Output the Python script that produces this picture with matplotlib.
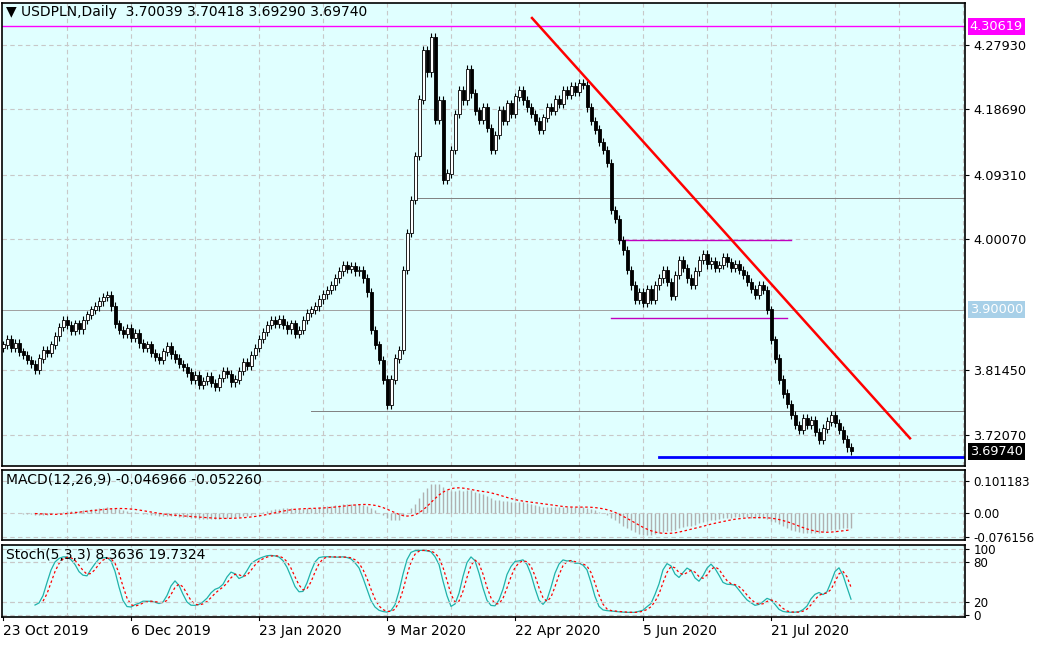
import matplotlib
matplotlib.use("Agg")
import matplotlib.pyplot as plt
import numpy as np
import pandas as pd

closes = [
3.850,3.858,3.845,3.852,3.840,3.835,3.828,3.822,3.814,3.830,
3.842,3.838,3.850,3.862,3.875,3.885,3.878,3.870,3.880,3.872,
3.885,3.893,3.900,3.905,3.912,3.918,3.921,3.905,3.880,3.871,
3.865,3.873,3.860,3.866,3.852,3.845,3.850,3.838,3.832,3.828,
3.840,3.848,3.836,3.830,3.822,3.818,3.810,3.800,3.806,3.792,
3.798,3.805,3.795,3.790,3.802,3.812,3.808,3.796,3.800,3.812,
3.825,3.820,3.835,3.845,3.858,3.868,3.878,3.885,3.880,3.887,
3.878,3.872,3.880,3.865,3.871,3.885,3.895,3.900,3.905,3.915,
3.922,3.928,3.935,3.945,3.955,3.964,3.958,3.962,3.955,3.957,
3.945,3.925,3.871,3.850,3.828,3.800,3.764,3.800,3.830,3.842,
3.957,4.010,4.057,4.120,4.201,4.272,4.240,4.290,4.172,4.200,
4.086,4.095,4.129,4.180,4.215,4.200,4.244,4.210,4.185,4.172,
4.190,4.160,4.129,4.150,4.186,4.170,4.195,4.180,4.205,4.215,
4.200,4.190,4.180,4.170,4.158,4.175,4.190,4.185,4.201,4.195,
4.215,4.208,4.220,4.212,4.225,4.222,4.190,4.170,4.158,4.140,
4.129,4.110,4.043,4.030,4.000,3.985,3.957,3.935,3.914,3.925,
3.910,3.930,3.914,3.935,3.945,3.957,3.940,3.920,3.950,3.971,
3.960,3.945,3.936,3.955,3.971,3.980,3.965,3.970,3.960,3.964,
3.975,3.968,3.960,3.965,3.957,3.950,3.940,3.930,3.921,3.935,
3.928,3.900,3.857,3.830,3.800,3.780,3.765,3.749,3.735,3.728,
3.745,3.735,3.742,3.725,3.714,3.730,3.740,3.749,3.738,3.728,
3.715,3.703,3.6974]
first_open = 3.845
date_labels = ["23 Oct 2019", "6 Dec 2019", "23 Jan 2020", "9 Mar 2020", "22 Apr 2020", "5 Jun 2020", "21 Jul 2020"]
date_pos = [0, 32, 64, 96, 128, 160, 192]
price_ticks = [4.27930, 4.18690, 4.09310, 4.00070, 3.81450, 3.72070]
resist_lines = [(4.30619, -1, 241, "#ff00ff", 1.0), (4.060, 103, 241, "#808080", 0.7),
                (3.900, -1, 241, "#a0a0a0", 0.7), (3.755, 77, 241, "#808080", 0.7),
                (3.6892, 164, 241, "#0000ff", 2.0), (4.000, 154, 197, "#c000c0", 1.0),
                (3.888, 152, 196, "#c000c0", 1.0)]
trend = ([132.25, 226.75], [4.3179, 3.716])

c = np.array(closes)
o = np.concatenate([[first_open], c[:-1]])
h = np.maximum(o, c) + 0.006
l = np.minimum(o, c) - 0.006
n = len(c)
x = np.arange(n)

s = pd.Series(c)
macd = s.ewm(span=12, adjust=False).mean() - s.ewm(span=26, adjust=False).mean()
sig = macd.rolling(9).mean()
hh = pd.Series(h).rolling(5).max(); ll = pd.Series(l).rolling(5).min()
fast = ((s - ll).rolling(3).sum() / (hh - ll).rolling(3).sum() * 100)
slow = fast.rolling(3).mean()

BG = "#e0ffff"
FS = 10
TFS = 9.3
fig = plt.figure(figsize=(10.37, 6.45), dpi=100)
W, H = 1037, 645
def rect(y0, y1):
    return [2/W, 1 - y1/H, 963/W, (y1 - y0)/H]
ax = fig.add_axes(rect(3, 466))
am = fig.add_axes(rect(470, 540))
ast = fig.add_axes(rect(545, 617))
for a in (ax, am, ast):
    a.set_facecolor(BG)
    a.set_xlim(-0.25, 240.5)
    for sp in a.spines.values():
        sp.set_linewidth(1.2)
    a.yaxis.tick_right()
    a.tick_params(axis='y', length=3, labelsize=TFS, pad=3)
    a.tick_params(axis='x', length=0, labelbottom=False)
    a.set_xticks([p for p in range(16, 241, 16)])
    a.grid(True, color="#c8c8c8", linestyle=(0, (4, 3)), linewidth=0.8)
    a.set_axisbelow(True)

ax.set_ylim(3.6763, 4.3394)
ax.set_yticks(price_ticks)
ax.set_yticklabels([f"{v:.5f}" for v in price_ticks])
for v, x0, x1, col, lw in resist_lines:
    ax.plot([x0, x1], [v, v], color=col, lw=lw, zorder=1)
ax.plot(trend[0], trend[1], color="red", lw=1.8, zorder=3)
up = c >= o
ax.vlines(x, l, h, color="black", lw=0.8, zorder=4)
ax.bar(x, np.abs(c - o) + 0.0005, bottom=np.minimum(o, c), width=0.75,
       color=np.where(up, "white", "black"), edgecolor="black", linewidth=0.6, zorder=5)
for v, fc, txt in [(4.30619, "#ff00ff", "4.30619"), (3.900, "#a8d0e8", "3.90000"), (c[-1], "black", "3.69740")]:
    ax.text(1.005, v, txt, transform=ax.get_yaxis_transform(), va="center", ha="left",
            fontsize=TFS, color="white", bbox=dict(boxstyle="square,pad=0.15", fc=fc, ec="none"))
ax.text(0.004, 0.995, "\u25BC USDPLN,Daily  3.70039 3.70418 3.69290 3.69740",
        transform=ax.transAxes, va="top", ha="left", fontsize=FS)

am.set_ylim(-0.0853, 0.1360)
am.set_yticks([0.101183, 0.0, -0.076156])
am.set_yticklabels(["0.101183", "0.00", "-0.076156"])
am.tick_params(axis='y', labelsize=8.6)
am.vlines(x, 0, macd, color="#b0b0b0", lw=1.0)
am.plot(x, sig, color="red", lw=0.9, linestyle=(0, (2, 2)))
am.text(0.004, 0.96, "MACD(12,26,9) -0.046966 -0.052260", transform=am.transAxes,
        va="top", ha="left", fontsize=FS)

ast.set_ylim(-3, 106)
ast.set_yticks([100, 80, 20, 0])
ast.tick_params(axis='y', labelsize=8.6)
ast.plot(x, slow, color="#20b2aa", lw=0.9)
ast.plot(x, slow.rolling(3).mean(), color="red", lw=0.9, linestyle=(0, (2, 2)))
ast.axhline(80, color="#c8c8c8", linestyle=(0, (4, 3)), lw=0.8)
ast.axhline(20, color="#c8c8c8", linestyle=(0, (4, 3)), lw=0.8)
ast.text(0.004, 0.96, "Stoch(5,3,3) 8.3636 19.7324", transform=ast.transAxes,
         va="top", ha="left", fontsize=FS)
for p, lab in zip(date_pos, date_labels):
    ast.text(p, -0.10, lab, transform=ast.get_xaxis_transform(), va="top", ha="left", fontsize=FS)
    ast.plot([p, p], [-0.04, 0], transform=ast.get_xaxis_transform(), color="black", lw=0.8, clip_on=False)

fig.savefig("out.png", dpi=100, facecolor="white")
